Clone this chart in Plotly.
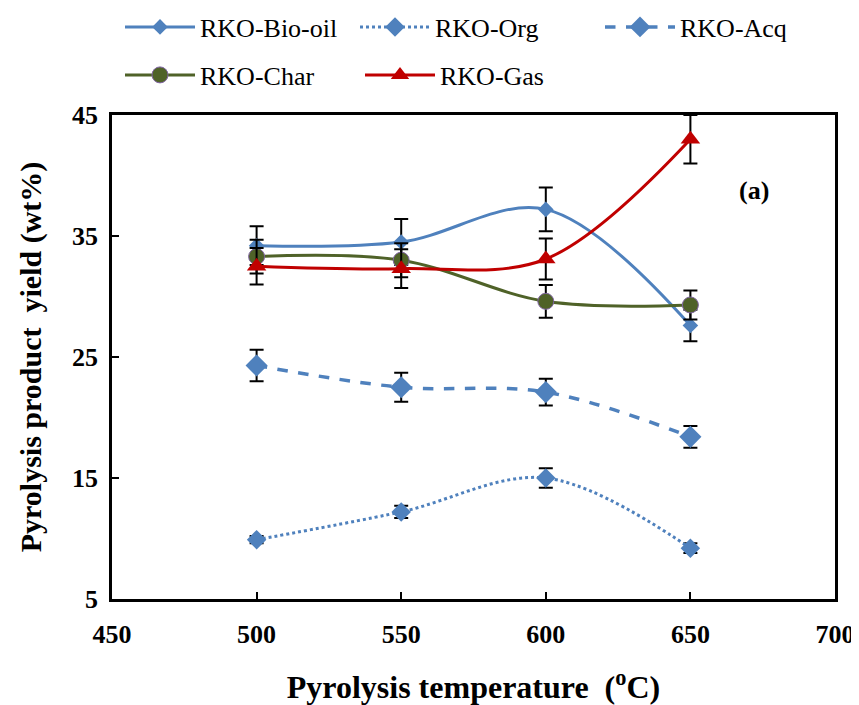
import plotly.graph_objects as go

temps = [500, 550, 600, 650]
bio_oil = [34.2, 34.5, 37.2, 27.6]
bio_oil_err = [1.6, 1.9, 1.8, 1.3]
org = [9.9, 12.2, 15.0, 9.2]
org_err = [0.3, 0.5, 0.8, 0.4]
acq = [24.3, 22.5, 22.1, 18.4]
acq_err = [1.3, 1.2, 1.1, 0.9]
char = [33.3, 33.0, 29.6, 29.3]
char_err = [1.4, 1.4, 1.35, 1.2]
gas = [32.5, 32.3, 33.1, 43.0]
gas_err = [1.5, 1.6, 1.7, 2.0]

x_ticks = [450, 500, 550, 600, 650, 700]
y_ticks = [5, 15, 25, 35, 45]

BLUE = "#4F81BD"
GREEN = "#4F6228"
RED = "#C00000"
FONT = "Liberation Serif"

W, H = 851, 697  # page has an 8px body margin

def err(vals):
    return dict(type="data", array=vals, visible=True, color="black", thickness=2, width=7)

fig = go.Figure()
fig.add_trace(go.Scatter(x=temps, y=bio_oil, name="RKO-Bio-oil", mode="lines+markers",
                         line=dict(color=BLUE, width=3, shape="spline"),
                         marker=dict(symbol="diamond", size=12, color=BLUE),
                         error_y=err(bio_oil_err), legend="legend"))
fig.add_trace(go.Scatter(x=temps, y=org, name="RKO-Org", mode="lines+markers",
                         line=dict(color=BLUE, width=3, shape="spline", dash="dot"),
                         marker=dict(symbol="diamond", size=15, color=BLUE),
                         error_y=err(org_err), legend="legend2"))
fig.add_trace(go.Scatter(x=temps, y=acq, name="RKO-Acq", mode="lines+markers",
                         line=dict(color=BLUE, width=3.5, shape="spline", dash="dash"),
                         marker=dict(symbol="diamond", size=17, color=BLUE),
                         error_y=err(acq_err), legend="legend3"))
fig.add_trace(go.Scatter(x=temps, y=char, name="RKO-Char", mode="lines+markers",
                         line=dict(color=GREEN, width=3, shape="spline"),
                         marker=dict(symbol="circle", size=16, color=GREEN,
                                     line=dict(color="#8064A2", width=1)),
                         error_y=err(char_err), legend="legend4"))
fig.add_trace(go.Scatter(x=temps, y=gas, name="RKO-Gas", mode="lines+markers",
                         line=dict(color=RED, width=3, shape="spline"),
                         marker=dict(symbol="triangle-up", size=17, color=RED),
                         error_y=err(gas_err), legend="legend5"))

fig.add_annotation(x=672, y=38.8, text="<b>(a)</b>", showarrow=False,
                   font=dict(family=FONT, size=26, color="black"))

axis_common = dict(showline=True, linecolor="black", linewidth=2.5, mirror=True,
                   ticks="inside", ticklen=7, tickwidth=2, tickcolor="black",
                   showgrid=False, zeroline=False,
                   tickfont=dict(family=FONT, size=26, color="black", weight="bold"))

fig.update_xaxes(range=[450, 700], tickvals=x_ticks, ticktext=[str(v) for v in x_ticks],
                 ticklabelstandoff=10,
                 title=dict(text="<b>Pyrolysis temperature  (<sup>o</sup>C)</b>",
                            font=dict(family=FONT, size=32, color="black"), standoff=30),
                 **axis_common)
fig.update_yaxes(range=[5, 45], tickvals=y_ticks, ticktext=[str(v) for v in y_ticks],
                 ticklabelstandoff=6,
                 title=dict(text="<b>Pyrolysis product  yield (wt%)</b>",
                            font=dict(family=FONT, size=30, color="black"), standoff=22),
                 **axis_common)

legend_common = dict(orientation="h", xref="container", yref="container",
                     xanchor="left", yanchor="middle", itemwidth=70,
                     font=dict(family=FONT, size=26, color="black"),
                     bgcolor="rgba(0,0,0,0)")

def leg(line_start_px, row_center_px):
    return dict(x=(line_start_px - 15) / W, y=1 - (row_center_px - 8) / H, **legend_common)

fig.update_layout(
    width=W, height=H,
    margin=dict(l=104, r=24, t=107, b=106, autoexpand=False),
    paper_bgcolor="white", plot_bgcolor="white",
    legend=leg(127, 27),
    legend2=leg(362, 27),
    legend3=leg(607, 27),
    legend4=leg(127, 75),
    legend5=leg(367, 75),
    showlegend=True,
)

fig.write_html("out.html")
